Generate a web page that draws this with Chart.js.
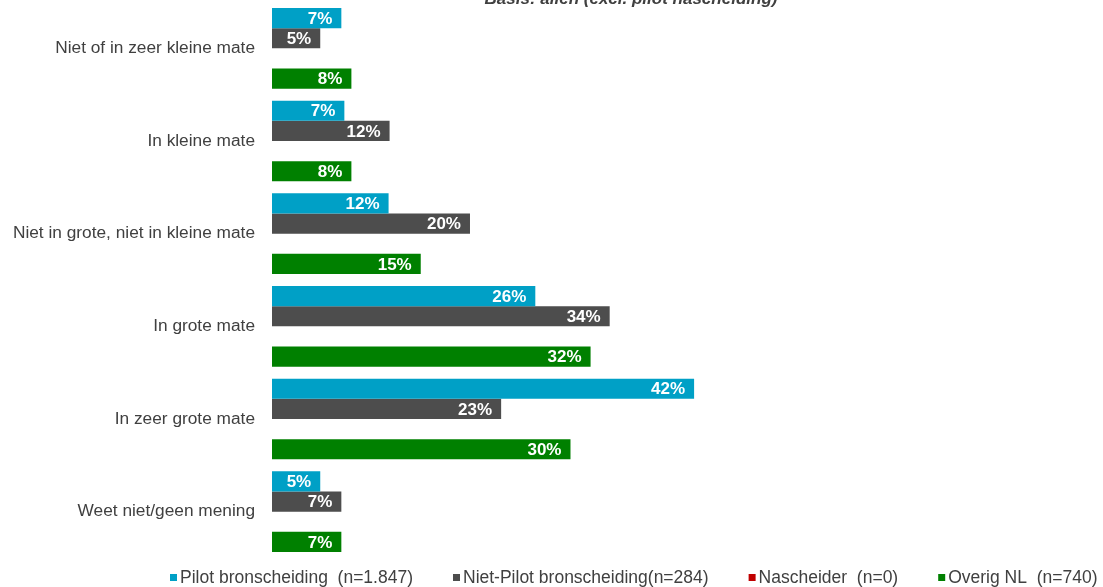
<!DOCTYPE html>
<html>
<head>
<meta charset="utf-8">
<script src="https://cdn.jsdelivr.net/npm/chart.js@4"></script>
<style>
body{margin:0;background:#fff;}
#wrap{width:1103px;height:587px;position:relative;}
</style>
</head>
<body>
<div id="wrap"><canvas id="grafiek"></canvas></div>
<script>
// categorieen en waarden
const categorieen=[
"Niet of in zeer kleine mate",
"In kleine mate",
"Niet in grote, niet in kleine mate",
"In grote mate",
"In zeer grote mate",
"Weet niet/geen mening"
];
const pilotBron=[6.9,7.2,11.6,26.2,42,4.8];
const nietPilotBron=[4.8,11.7,19.7,33.6,22.8,6.9];
const nascheider=[0,0,0,0,0,0];
const overigNL=[7.9,7.9,14.8,31.7,29.7,6.9];

const reeksNamen=[
"Pilot bronscheiding  (n=1.847)",
"Niet-Pilot bronscheiding(n=284)",
"Nascheider  (n=0)",
"Overig NL  (n=740)"
];
const titel="Basis: allen (excl. pilot nascheiding)";

const kleuren=["#00A0C6","#4D4D4D","#C00000","#008000"];
const FONT="'Liberation Sans', Arial, sans-serif";

// labels in de balken
const balkLabels={
id:"balkLabels",
afterDatasetsDraw(chart){
const ctx=chart.ctx;
ctx.save();
ctx.font="bold 17px "+FONT;
ctx.fillStyle="#fff";
ctx.textAlign="right";
ctx.textBaseline="middle";
chart.data.datasets.forEach((ds,i)=>{
chart.getDatasetMeta(i).data.forEach((bar,j)=>{
const v=ds.data[j];
if(v>0){
ctx.fillText(Math.round(v)+"%",bar.x-9,bar.y+1);
}
});
});
ctx.restore();
}
};

// titel bovenaan (grotendeels buiten beeld) en legenda onderaan
const titelEnLegenda={
id:"titelEnLegenda",
afterDraw(chart){
const ctx=chart.ctx;
ctx.save();
ctx.font="italic bold 17px "+FONT;
ctx.fillStyle="#404040";
ctx.textAlign="center";
ctx.textBaseline="alphabetic";
ctx.fillText(titel,631,4);

ctx.font="17.5px "+FONT;
ctx.textAlign="left";
ctx.textBaseline="middle";
let x=170;
const y=578;
chart.data.datasets.forEach(ds=>{
ctx.fillStyle=ds.backgroundColor;
ctx.fillRect(x,y-4,7,7);
x+=10;
ctx.fillStyle="#404040";
ctx.fillText(ds.label,x,y);
x+=ctx.measureText(ds.label).width+40;
});
ctx.restore();
}
};

new Chart(
document.getElementById("grafiek"),
{
type:"bar",
data:{
labels:categorieen,
datasets:[pilotBron,nietPilotBron,nascheider,overigNL].map((d,i)=>({
label:reeksNamen[i],
data:d,
backgroundColor:kleuren[i],
borderWidth:0,
barPercentage:1,
categoryPercentage:0.87
}))
},
options:{
indexAxis:"y",
responsive:true,
maintainAspectRatio:false,
animation:false,
layout:{
padding:{top:2,right:27,left:0,bottom:29}
},
scales:{
x:{
display:false,
min:0,
max:80
},
y:{
grid:{display:false,drawTicks:false},
border:{display:false},
ticks:{
color:"#404040",
font:{family:FONT,size:17.3},
padding:17
},
afterFit(scale){
scale.width=272;
scale.paddingTop=0;
scale.paddingBottom=0;
}
}
},
plugins:{
legend:{display:false},
tooltip:{enabled:false}
}
},
plugins:[balkLabels,titelEnLegenda]
}
);
</script>
</body>
</html>
